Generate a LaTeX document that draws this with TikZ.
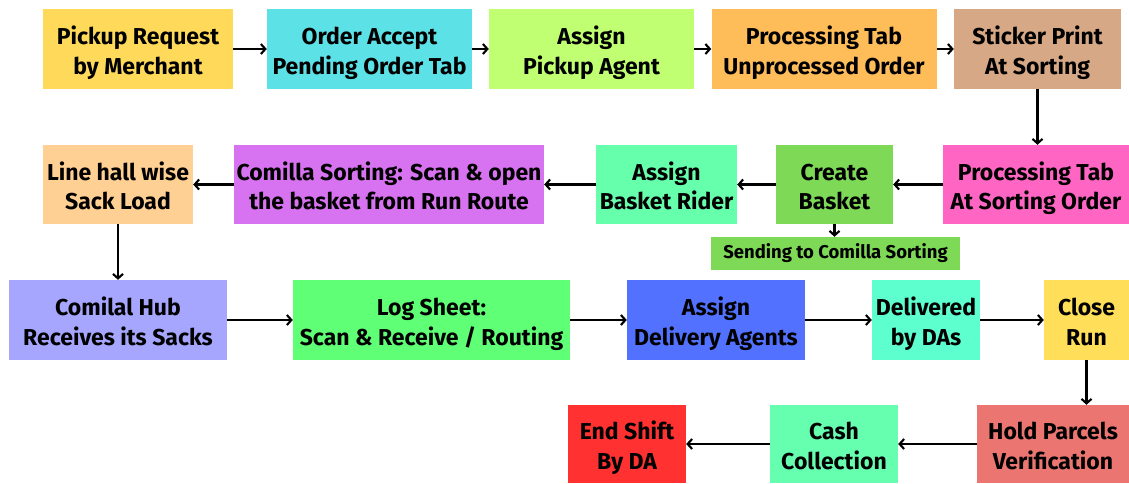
\documentclass[tikz,border=0pt]{standalone}
\usepackage{fontspec}
\setmainfont{Fira Sans}[BoldFont={* Bold}]
\usetikzlibrary{arrows.meta}

\definecolor{cPickup}{HTML}{FFDA5A}
\definecolor{cAccept}{HTML}{5CE1E6}
\definecolor{cAssignP}{HTML}{C1FF72}
\definecolor{cProcA}{HTML}{FFBD59}
\definecolor{cSticker}{HTML}{D6A886}
\definecolor{cProcB}{HTML}{FF66C4}
\definecolor{cCreate}{HTML}{7ED957}
\definecolor{cRider}{HTML}{66FFAB}
\definecolor{cComilla}{HTML}{D772F0}
\definecolor{cLine}{HTML}{FFD093}
\definecolor{cHub}{HTML}{A6A6FF}
\definecolor{cLog}{HTML}{5FFF76}
\definecolor{cDAssign}{HTML}{5271FF}
\definecolor{cDeliv}{HTML}{5DFFCF}
\definecolor{cClose}{HTML}{FFDE59}
\definecolor{cHold}{HTML}{EA7571}
\definecolor{cCash}{HTML}{66FFAF}
\definecolor{cEnd}{HTML}{FF3131}

% two centred lines, set a little below the box centre
\newcommand{\twolines}[1]{\raisebox{-4.5pt}[\height][\depth]{%
  \begin{tabular}{@{}c@{}}#1\end{tabular}}}

\tikzset{
  stepbox/.style={draw=none, inner sep=0pt, align=center,
    font=\fontsize{23}{29.5}\selectfont\bfseries},
  flow/.style={line width=2.1pt, -{Straight Barb[length=4.5pt,width=10pt,line width=2.1pt]}},
}

\begin{document}
\begin{tikzpicture}[x=1pt, y=-1pt]
  \useasboundingbox (0,0) rectangle (1129,483);

  % first row
  \node[stepbox, fill=cPickup,  minimum width=190, minimum height=80] (pickup)  at (138,49)    {\twolines{Pickup Request\\by Merchant}};
  \node[stepbox, fill=cAccept,  minimum width=205, minimum height=80] (accept)  at (369.5,49)  {\twolines{Order Accept\\Pending Order Tab}};
  \node[stepbox, fill=cAssignP, minimum width=205, minimum height=80] (assignp) at (591.5,49)  {\twolines{Assign\\Pickup Agent}};
  \node[stepbox, fill=cProcA,   minimum width=225, minimum height=80] (proca)   at (824,49)    {\twolines{Processing Tab\\Unprocessed Order}};
  \node[stepbox, fill=cSticker, minimum width=167, minimum height=80] (sticker) at (1037.5,49) {\twolines{Sticker Print\\At Sorting}};

  % second row
  \node[stepbox, fill=cLine,    minimum width=150, minimum height=79] (linehall) at (118,184.5)  {\twolines{Line hall wise\\Sack Load}};
  \node[stepbox, fill=cComilla, minimum width=310, minimum height=79] (comilla)  at (389,184.5)  {\twolines{Comilla Sorting: Scan \& open\\the basket from Run Route}};
  \node[stepbox, fill=cRider,   minimum width=141, minimum height=79] (rider)    at (666.5,184.5){\twolines{Assign\\Basket Rider}};
  \node[stepbox, fill=cCreate,  minimum width=117, minimum height=79] (create)   at (834.5,184.5){\twolines{Create\\Basket}};
  \node[stepbox, fill=cProcB,   minimum width=186, minimum height=79] (procb)    at (1036,184.5) {\twolines{Processing Tab\\At Sorting Order}};
  \node[stepbox, fill=cCreate,  minimum width=249, minimum height=33,
        font=\fontsize{18.5}{22}\selectfont\bfseries] (sending) at (835.5,253.5) {Sending to Comilla Sorting};

  % third row
  \node[stepbox, fill=cHub,     minimum width=218, minimum height=80] (hub)      at (118,320)    {\twolines{Comilal Hub\\Receives its Sacks}};
  \node[stepbox, fill=cLog,     minimum width=277, minimum height=80] (logsheet) at (431.5,320)  {\twolines{Log Sheet:\\Scan \& Receive / Routing}};
  \node[stepbox, fill=cDAssign, minimum width=178, minimum height=80] (dassign)  at (716,320)    {\twolines{Assign\\Delivery Agents}};
  \node[stepbox, fill=cDeliv,   minimum width=108, minimum height=80] (deliv)    at (926,320)    {\twolines{Delivered\\by DAs}};
  \node[stepbox, fill=cClose,   minimum width=85,  minimum height=80] (closerun) at (1086.5,320) {\twolines{Close\\Run}};

  % fourth row
  \node[stepbox, fill=cEnd,  minimum width=118, minimum height=78] (endshift) at (627,444)  {\twolines{End Shift\\By DA}};
  \node[stepbox, fill=cCash, minimum width=128, minimum height=78] (cash)     at (834,444)  {\twolines{Cash\\Collection}};
  \node[stepbox, fill=cHold, minimum width=152, minimum height=78] (hold)     at (1053,444) {\twolines{Hold Parcels\\Verification}};

  % connectors
  \draw[flow] (pickup) -- (accept);
  \draw[flow] (accept) -- (assignp);
  \draw[flow] (assignp) -- (proca);
  \draw[flow] (proca) -- (sticker);
  \draw[flow] (sticker.south) -- (sticker.south |- procb.north);
  \draw[flow] (procb) -- (create);
  \draw[flow] (create) -- (rider);
  \draw[flow] (create.south) -- (create.south |- sending.north);
  \draw[flow] (rider) -- (comilla);
  \draw[flow] (comilla) -- (linehall);
  \draw[flow] (linehall) -- (hub);
  \draw[flow] (hub) -- (logsheet);
  \draw[flow] (logsheet) -- (dassign);
  \draw[flow] (dassign) -- (deliv);
  \draw[flow] (deliv) -- (closerun);
  \draw[flow] (closerun.south) -- (closerun.south |- hold.north);
  \draw[flow] (hold) -- (cash);
  \draw[flow] (cash) -- (endshift);
\end{tikzpicture}
\end{document}
